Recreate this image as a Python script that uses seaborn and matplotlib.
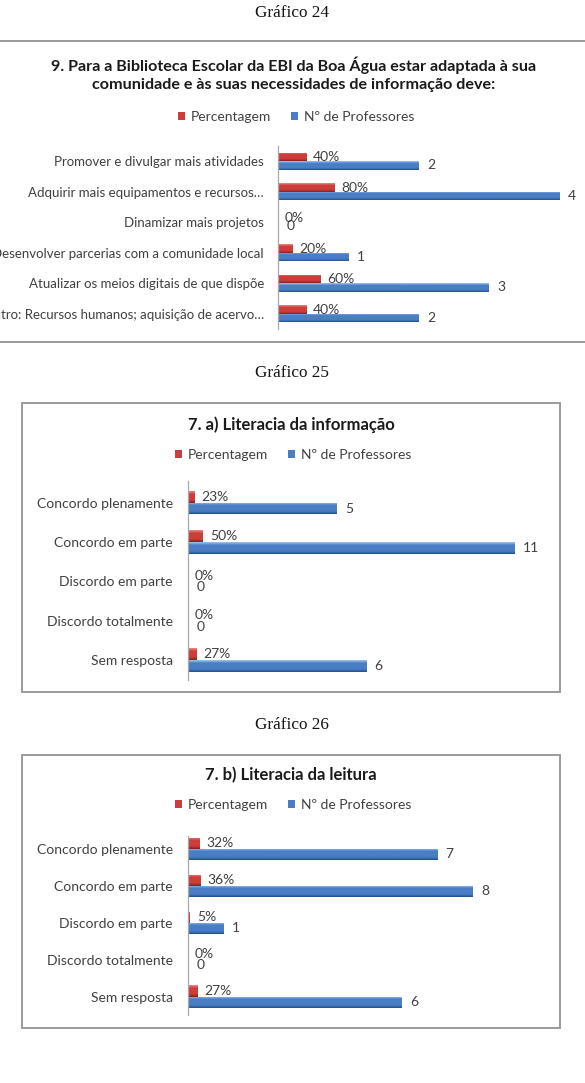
import numpy as np
import pandas as pd
import matplotlib
matplotlib.use("Agg")
import matplotlib.pyplot as plt
import seaborn as sns
from matplotlib.colors import LinearSegmentedColormap
from matplotlib.patches import Rectangle
from matplotlib.lines import Line2D

# ---------------- data ----------------
series_names = ["Percentagem", "Nº de Professores"]
captions = ["Gráfico 24", "Gráfico 25", "Gráfico 26"]

c1_title = ("9. Para a Biblioteca Escolar da EBI da Boa Água estar adaptada à sua\n"
            "comunidade e às suas necessidades de informação deve:")
c1_categories = ["Promover e divulgar mais atividades",
                 "Adquirir mais equipamentos e recursos…",
                 "Dinamizar mais projetos",
                 "Desenvolver parcerias com a comunidade local",
                 "Atualizar os meios digitais de que dispõe",
                 "Outro: Recursos humanos; aquisição de acervo…"]
c1_percent = [40, 80, 0, 20, 60, 40]
c1_count = [2, 4, 0, 1, 3, 2]

c2_title = "7. a) Literacia da informação"
likert_categories = ["Concordo plenamente", "Concordo em parte", "Discordo em parte",
                     "Discordo totalmente", "Sem resposta"]
c2_percent = [23, 50, 0, 0, 27]
c2_count = [5, 11, 0, 0, 6]

c3_title = "7. b) Literacia da leitura"
c3_percent = [32, 36, 5, 0, 27]
c3_count = [7, 8, 1, 0, 6]

# ---------------- style ----------------
W, H, DPI = 585, 1083, 100
sns.set_theme(style="white")
FONT = ["Lato", "DejaVu Sans"]
plt.rcParams["font.family"] = FONT

RED, BLUE = "#cc3d3b", "#4a7ec4"
RED_L, RED_D = "#f08a88", "#84201e"
BLUE_L, BLUE_D = "#a4c6f0", "#22508f"
TXT = "#404040"
FRAME = "#9a9a9a"

fig = plt.figure(figsize=(W / DPI, H / DPI), dpi=DPI)
fig.patch.set_facecolor("white")


def add_axes_px(x0, y0, x1, y1):
    return fig.add_axes([x0 / W, 1 - y1 / H, (x1 - x0) / W, (y1 - y0) / H])


def fig_text(x, y, s, **kw):
    fig.text(x / W, 1 - y / H, s, **kw)


def shade(ax, patch, light, base, dark):
    bb = patch.get_bbox()
    if bb.width <= 0:
        return
    cmap = LinearSegmentedColormap.from_list("g", [light, base, base, base, dark])
    grad = np.linspace(0, 1, 64).reshape(-1, 1)
    y_top, y_bot = min(bb.y0, bb.y1), max(bb.y0, bb.y1)
    im = ax.imshow(grad, extent=[bb.x0, bb.x1, y_bot, y_top], cmap=cmap,
                   aspect="auto", interpolation="bilinear", zorder=patch.get_zorder() + 0.1)
    im.set_clip_path(patch)


def draw_chart(cats, pct, cnt, box, scale, pad_top, pad_bot, width,
               label_fs, tick_pad, legend_xy, value_fs):
    x0, y0, x1, y1 = box
    n = len(cats)
    df = pd.DataFrame({
        "categoria": cats * 2,
        "serie": [series_names[0]] * n + [series_names[1]] * n,
        "valor": [p / 100 for p in pct] + list(cnt),
    })
    ax = add_axes_px(x0, y0, x1, y1)
    sns.barplot(data=df, y="categoria", x="valor", hue="serie", hue_order=series_names,
                palette=[RED, BLUE], orient="h", width=width, ax=ax,
                edgecolor="none", linewidth=0, saturation=1)
    for patch in ax.containers[0]:
        shade(ax, patch, RED_L, RED, RED_D)
    for patch in ax.containers[1]:
        shade(ax, patch, BLUE_L, BLUE, BLUE_D)
    ax.bar_label(ax.containers[0], labels=[f"{p}%" for p in pct], padding=5,
                 fontsize=value_fs, color=TXT, family=FONT)
    ax.bar_label(ax.containers[1], labels=[str(c) for c in cnt], padding=6,
                 fontsize=value_fs, color=TXT, family=FONT)
    ax.set_xlim(0, (x1 - x0) / scale)
    ax.set_ylim(n - 1 + pad_bot, -pad_top)
    ax.set_xlabel("")
    ax.set_ylabel("")
    ax.set_xticks([])
    for s in ["top", "right", "bottom"]:
        ax.spines[s].set_visible(False)
    ax.spines["left"].set_color("#a8a8a8")
    ax.spines["left"].set_linewidth(0.9)
    ax.tick_params(axis="y", length=0, pad=tick_pad, labelsize=label_fs, labelcolor=TXT)
    ax.patch.set_alpha(0)
    lx, ly = legend_xy
    sns.move_legend(ax, "center", bbox_to_anchor=(lx / W, 1 - ly / H),
                    bbox_transform=fig.transFigure, ncol=2, frameon=False, title=None,
                    fontsize=10, handlelength=0.55, handleheight=0.55,
                    handletextpad=0.4, columnspacing=1.4)
    leg = ax.get_legend()
    for t in leg.get_texts():
        t.set_color(TXT)
    return ax


# ---------------- captions ----------------
for cap, yy in zip(captions, [13, 373, 725]):
    fig_text(292, yy, cap, ha="center", va="center", fontsize=12.3,
             family="Liberation Serif", color="#111111")

# ---------------- chart 1 ----------------
for yy in [41, 342]:
    fig.add_artist(Line2D([0, 1], [1 - yy / H] * 2, transform=fig.transFigure,
                          color=FRAME, lw=1.4))
fig_text(294, 74, c1_title, ha="center", va="center", fontsize=11.6,
         fontweight="bold", color="#1a1a1a", linespacing=1.35)
draw_chart(c1_categories, c1_percent, c1_count, box=(278, 146, 580, 329),
           scale=70.3, pad_top=0.5, pad_bot=0.5, width=0.55, label_fs=9.5,
           tick_pad=10, legend_xy=(296, 117), value_fs=10)

# ---------------- chart 2 ----------------
fig.add_artist(Rectangle((22 / W, 1 - 692 / H), (560 - 22) / W, (692 - 403) / H,
                         transform=fig.transFigure, fill=False, ec=FRAME, lw=1.4))
fig_text(291, 425, c2_title, ha="center", va="center", fontsize=12,
         fontweight="bold", color="#1a1a1a")
draw_chart(likert_categories, c2_percent, c2_count, box=(188, 481, 555, 680),
           scale=29.7, pad_top=0.55, pad_bot=0.5, width=0.6, label_fs=10,
           tick_pad=11, legend_xy=(293, 455), value_fs=10)

# ---------------- chart 3 ----------------
fig.add_artist(Rectangle((22 / W, 1 - 1028 / H), (560 - 22) / W, (1028 - 755) / H,
                         transform=fig.transFigure, fill=False, ec=FRAME, lw=1.4))
fig_text(291, 775, c3_title, ha="center", va="center", fontsize=12,
         fontweight="bold", color="#1a1a1a")
draw_chart(likert_categories, c3_percent, c3_count, box=(188, 836, 555, 1015),
           scale=35.6, pad_top=0.35, pad_bot=0.5, width=0.6, label_fs=10,
           tick_pad=11, legend_xy=(293, 805), value_fs=10)

fig.savefig("out.png", dpi=DPI, facecolor="white")
